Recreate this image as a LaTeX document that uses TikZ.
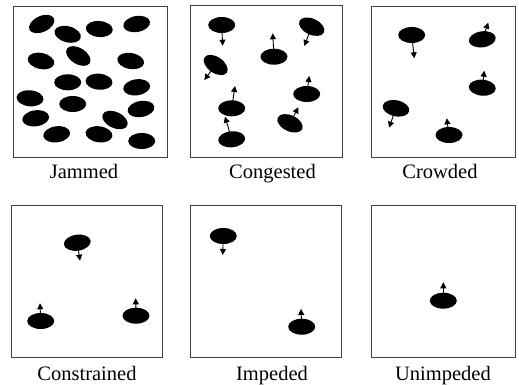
\documentclass[tikz,border=0pt]{standalone}
\usepackage{fontspec}
\setmainfont{Liberation Serif}
\usetikzlibrary{arrows.meta,shapes.geometric}
\tikzset{
  panel/.style={draw=black!75, line width=0.9pt},
  ped/.style={ellipse, fill=black, draw=none, inner sep=0pt,
              minimum width=27pt, minimum height=16pt},
  mv/.style={line width=0.9pt, -{Triangle[length=6pt,width=6pt]}},
  caption/.style={font=\fontsize{20.5}{23}\selectfont, anchor=base, inner sep=0pt}
}
\begin{document}
\begin{tikzpicture}[x=1pt,y=-1pt]
\useasboundingbox (0,0) rectangle (519,385);

% ---------- panel frames ----------
\draw[panel] (13,6) rectangle (167,157);
\draw[panel] (190,5) rectangle (342,157);
\draw[panel] (371,6) rectangle (515,157);
\draw[panel] (11,205) rectangle (162,357);
\draw[panel] (190,205) rectangle (341,357);
\draw[panel] (371,205) rectangle (515,357);

% ---------- captions ----------
\node[caption] (tj) at (84,178) {Jammed};
\node[caption] (tg) at (272.5,178) {Congested};
\node[caption] (tc) at (440,178) {Crowded};
\node[caption] (tn) at (87,380) {Constrained};
\node[caption] (ti) at (272,380) {Impeded};
\node[caption] (tu) at (443,380) {Unimpeded};

% ---------- Jammed ----------
\node[ped, rotate=25]  (j1)  at (41.7,24) {};
\node[ped, rotate=-15] (j2)  at (67.7,34.3) {};
\node[ped, rotate=-5]  (j3)  at (99.3,29) {};
\node[ped, rotate=10]  (j4)  at (136.7,24) {};
\node[ped, rotate=-12] (j5)  at (41,61) {};
\node[ped, rotate=-32] (j6)  at (78.3,56) {};
\node[ped, rotate=-10] (j7)  at (130.7,61) {};
\node[ped]             (j8)  at (67.7,82.3) {};
\node[ped, rotate=-5]  (j9)  at (99,81.7) {};
\node[ped, rotate=8]   (j10) at (136.7,87.3) {};
\node[ped, rotate=-5]  (j11) at (30,98.3) {};
\node[ped]             (j12) at (72.7,104) {};
\node[ped, rotate=10]  (j13) at (141,109) {};
\node[ped, rotate=8]   (j14) at (35.7,118.3) {};
\node[ped, rotate=-25] (j15) at (115,120) {};
\node[ped, rotate=8]   (j16) at (56.7,134.3) {};
\node[ped, rotate=-8]  (j17) at (99,134.3) {};
\node[ped]             (j18) at (141.7,141) {};

% ---------- Congested ----------
\node[ped]             (g1) at (221.7,25) {};
\node[ped, rotate=-25] (g2) at (311.7,26.7) {};
\node[ped]             (g3) at (274,56.7) {};
\node[ped, rotate=-35] (g4) at (215.7,65) {};
\node[ped]             (g5) at (306.7,94) {};
\node[ped]             (g6) at (231.7,108.3) {};
\node[ped, rotate=-25] (g7) at (290,123.3) {};
\node[ped, rotate=5]   (g8) at (231.7,139.3) {};
\coordinate (g1e) at (222.7,45.7);
\coordinate (g2e) at (304.3,46);
\coordinate (g3e) at (272.7,33.3);
\coordinate (g4e) at (204.3,80);
\coordinate (g5e) at (309.3,76);
\coordinate (g6e) at (235,86);
\coordinate (g7e) at (298.3,107.3);
\coordinate (g8e) at (225,116.7);
\foreach \p in {g1,g2,g3,g4,g5,g6,g7,g8}
  \draw[mv] (\p.center) -- (\p e);

% ---------- Crowded ----------
\node[ped]             (c1) at (411.7,35) {};
\node[ped, rotate=8]   (c2) at (482.3,39.3) {};
\node[ped, rotate=-5]  (c3) at (482.3,87.7) {};
\node[ped, rotate=-12] (c4) at (396,108.3) {};
\node[ped]             (c5) at (449,135) {};
\coordinate (c1e) at (414.3,58.3);
\coordinate (c2e) at (488.3,22.7);
\coordinate (c3e) at (484.3,70.7);
\coordinate (c4e) at (389,127.7);
\coordinate (c5e) at (446.7,118.3);
\foreach \p in {c1,c2,c3,c4,c5}
  \draw[mv] (\p.center) -- (\p e);

% ---------- Constrained ----------
\node[ped, rotate=8] (n1) at (77.3,242.7) {};
\node[ped]           (n2) at (40.7,321) {};
\node[ped]           (n3) at (136,315.7) {};
\coordinate (n1e) at (80,260.7);
\coordinate (n2e) at (40,303.3);
\coordinate (n3e) at (135.7,298.3);
\foreach \p in {n1,n2,n3}
  \draw[mv] (\p.center) -- (\p e);

% ---------- Impeded ----------
\node[ped] (i1) at (223.3,236) {};
\node[ped] (i2) at (301.7,326.7) {};
\coordinate (i1e) at (222.7,255);
\coordinate (i2e) at (301,309);
\foreach \p in {i1,i2}
  \draw[mv] (\p.center) -- (\p e);

% ---------- Unimpeded ----------
\node[ped] (u1) at (443.3,300.7) {};
\coordinate (u1e) at (443.3,282.3);
\draw[mv] (u1.center) -- (u1e);

\end{tikzpicture}
\end{document}
